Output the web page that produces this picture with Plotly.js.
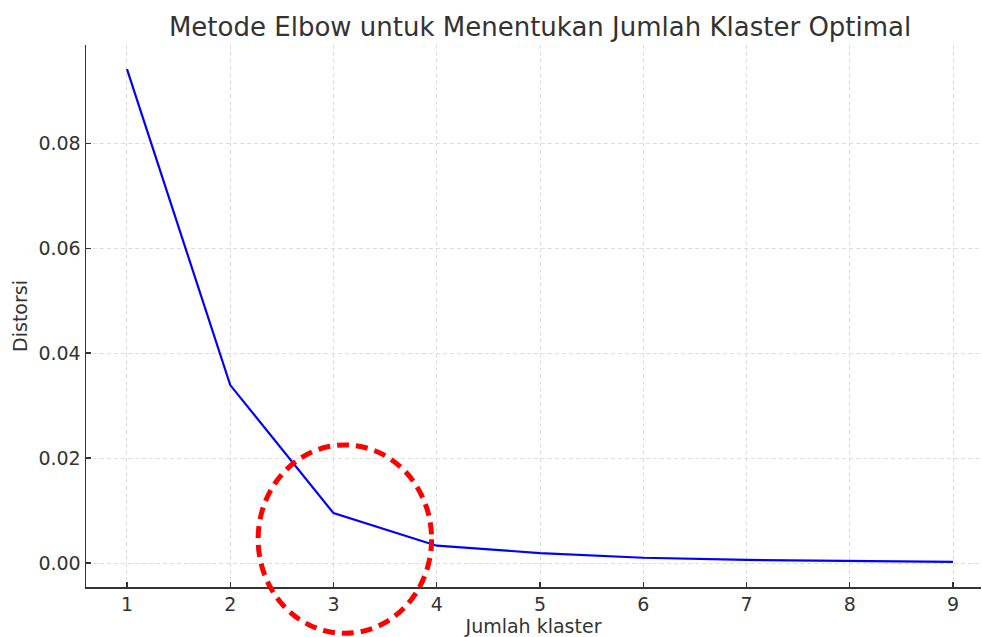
<!DOCTYPE html>
<html><head><meta charset="utf-8">
<script src="https://cdn.plot.ly/plotly-3.0.1.min.js"></script>
<style>html,body{margin:0;padding:0;background:#fff;}#chart{width:982px;height:637px;}</style>
</head><body><div id="chart"></div>
<script>
const clusters = [1, 2, 3, 4, 5, 6, 7, 8, 9];
const distortion = [0.0941, 0.0339, 0.0095, 0.0033, 0.0019, 0.0010, 0.0006, 0.0004, 0.0002];
const xTicks = [1, 2, 3, 4, 5, 6, 7, 8, 9];
const yTicks = [0.00, 0.02, 0.04, 0.06, 0.08];
const yTickLabels = ['0.00', '0.02', '0.04', '0.06', '0.08'];

const yRange = [-0.00457, 0.0987];
const toPaper = v => (v - yRange[0]) / (yRange[1] - yRange[0]);

const font = 'DejaVu Sans, sans-serif';
const trace = {
  x: clusters, y: distortion, type: 'scatter', mode: 'lines',
  line: {color: '#0000ff', width: 2.2}, hoverinfo: 'skip'
};
const layout = {
  width: 982, height: 637,
  margin: {l: 86, r: 1, t: 45, b: 50},
  paper_bgcolor: '#fff', plot_bgcolor: '#fff',
  showlegend: false,
  title: {text: 'Metode Elbow untuk Menentukan Jumlah Klaster Optimal',
          font: {family: font, size: 26, color: '#333'}, x: 0.55, xanchor: 'center', y: 0.958, yanchor: 'middle'},
  xaxis: {
    range: [0.603, 9.271], tickvals: xTicks, ticktext: xTicks.map(String),
    ticks: 'inside', ticklen: 5, tickwidth: 1.2, tickcolor: '#333',
    showline: true, linecolor: '#333', linewidth: 1.5, mirror: false,
    showgrid: true, gridcolor: '#d6d6d6', griddash: '4px,3px', gridwidth: 0.8,
    zeroline: false,
    tickfont: {family: font, size: 19, color: '#333'},
    title: {text: 'Jumlah klaster', font: {family: font, size: 19, color: '#333'}, standoff: 6}
  },
  yaxis: {
    range: yRange, tickvals: yTicks, ticktext: yTickLabels,
    ticks: 'inside', ticklen: 5, tickwidth: 1.2, tickcolor: '#333',
    showline: true, linecolor: '#333', linewidth: 1.5,
    showgrid: true, gridcolor: '#d6d6d6', griddash: '4px,3px', gridwidth: 0.8,
    zeroline: false,
    tickfont: {family: font, size: 19, color: '#333'},
    title: {text: 'Distorsi', font: {family: font, size: 19, color: '#333'}, standoff: 5}
  },
  shapes: [{
    type: 'circle', xref: 'x', yref: 'paper', layer: 'above',
    x0: 2.27, x1: 3.95,
    y0: toPaper(-0.0134), y1: toPaper(0.0225),
    line: {color: '#ff0000', width: 5, dash: '12px,7px'},
    fillcolor: 'rgba(0,0,0,0)'
  }]
};
Plotly.newPlot('chart', [trace], layout, {displayModeBar: false, staticPlot: true});
</script></body></html>
